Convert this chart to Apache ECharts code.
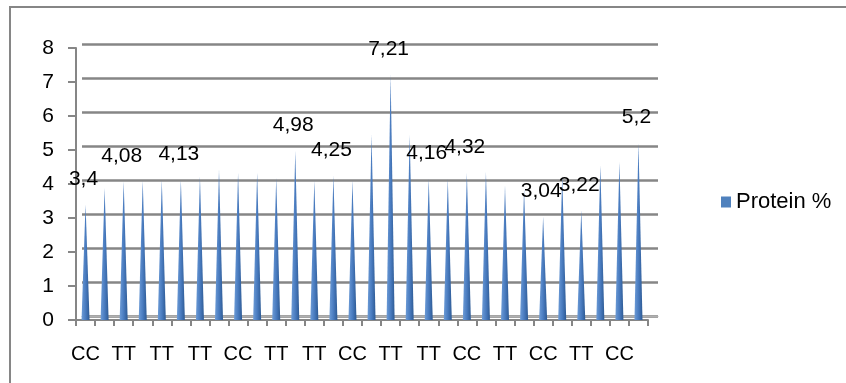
<!DOCTYPE html>
<html>
<head>
<meta charset="utf-8">
<script src="https://cdn.jsdelivr.net/npm/echarts@6/dist/echarts.min.js"></script>
<style>
  html, body { margin: 0; padding: 0; background: #fff; }
  #chart { width: 846px; height: 383px; }
</style>
</head>
<body>
<div id="chart"></div>
<script>
// genotype of each sample (only every other one shows on the axis)
var genotypes = ['CC', 'CT', 'TT', 'CT', 'TT', 'CT', 'TT', 'CT', 'CC', 'CT',
                 'TT', 'CT', 'TT', 'CT', 'CC', 'CT', 'TT', 'CT', 'TT', 'CT',
                 'CC', 'CT', 'TT', 'CT', 'CC', 'CT', 'TT', 'CT', 'CC', 'CT'];
var protein = [3.4, 3.88, 4.08, 4.1, 4.12, 4.13, 4.22, 4.42, 4.33, 4.33,
               4.18, 4.98, 4.1, 4.25, 4.1, 5.45, 7.21, 5.45, 4.16, 4.15,
               4.32, 4.35, 3.95, 3.85, 3.04, 4.25, 3.22, 4.55, 4.65, 5.2];
// samples that carry a value label in the original
var labeled = [0, 2, 5, 11, 13, 16, 18, 20, 24, 26, 29];
var yTicks = [0, 8, 1];

var font = 'Liberation Sans';
var gray = '#868686';

var seriesData = protein.map(function (v, i) {
    return {
        value: v,
        label: { show: labeled.indexOf(i) >= 0 }
    };
});

var chart = echarts.init(document.getElementById('chart'));
chart.setOption({
    animation: false,
    textStyle: { fontFamily: font },
    graphic: [{
        type: 'rect',
        shape: { x: 10, y: 7, width: 1000, height: 1000 },
        style: { fill: 'none', stroke: gray, lineWidth: 2 },
        silent: true
    }],
    legend: {
        left: 716,
        top: 186,
        icon: 'rect',
        itemWidth: 10,
        itemHeight: 11,
        itemStyle: { color: '#4f81bd' },
        textStyle: { fontSize: 22, color: '#000', fontFamily: font },
        data: ['Protein %']
    },
    grid: [
        { left: 76, top: 48, width: 572, height: 272 },   // front plane: bars and axes
        { left: 82, top: 44, width: 576, height: 272 }    // back wall: gridlines
    ],
    xAxis: [{
        type: 'category',
        gridIndex: 0,
        data: genotypes,
        boundaryGap: true,
        axisLine: { lineStyle: { color: gray, width: 2 } },
        axisTick: { show: true, length: 6, interval: 0, lineStyle: { color: gray, width: 2 } },
        axisLabel: { interval: 1, fontSize: 20, color: '#000', margin: 24, fontFamily: font }
    }, {
        type: 'category',
        gridIndex: 1,
        data: genotypes,
        axisLine: { lineStyle: { color: '#b0b0b0', width: 1 } },
        axisTick: { show: false },
        axisLabel: { show: false }
    }],
    yAxis: [{
        type: 'value',
        gridIndex: 0,
        min: yTicks[0],
        max: yTicks[1],
        interval: yTicks[2],
        axisLine: { show: true, lineStyle: { color: gray, width: 2 } },
        axisTick: { show: true, length: 8, lineStyle: { color: gray, width: 2 } },
        axisLabel: { fontSize: 21, color: '#000', margin: 22, fontFamily: font },
        splitLine: { show: false }
    }, {
        type: 'value',
        gridIndex: 1,
        min: yTicks[0],
        max: yTicks[1],
        interval: yTicks[2],
        axisLine: { show: false },
        axisTick: { show: false },
        axisLabel: { show: false },
        splitLine: { lineStyle: { color: gray, width: 2.5 } }
    }],
    series: [{
        name: 'Protein %',
        type: 'pictorialBar',
        xAxisIndex: 0,
        yAxisIndex: 0,
        symbol: 'triangle',
        symbolSize: [8, '100%'],
        z: 5,
        itemStyle: {
            color: {
                type: 'linear', x: 0, y: 0, x2: 1, y2: 0,
                colorStops: [
                    { offset: 0, color: '#6c9bd6' },
                    { offset: 0.5, color: '#4a7cc0' },
                    { offset: 1, color: '#2d5a94' }
                ]
            }
        },
        label: {
            position: 'top',
            distance: 15,
            offset: [-2, 0],
            fontSize: 21,
            color: '#000',
            fontFamily: font,
            formatter: function (p) { return String(p.value).replace('.', ','); }
        },
        data: seriesData
    }]
});
</script>
</body>
</html>
